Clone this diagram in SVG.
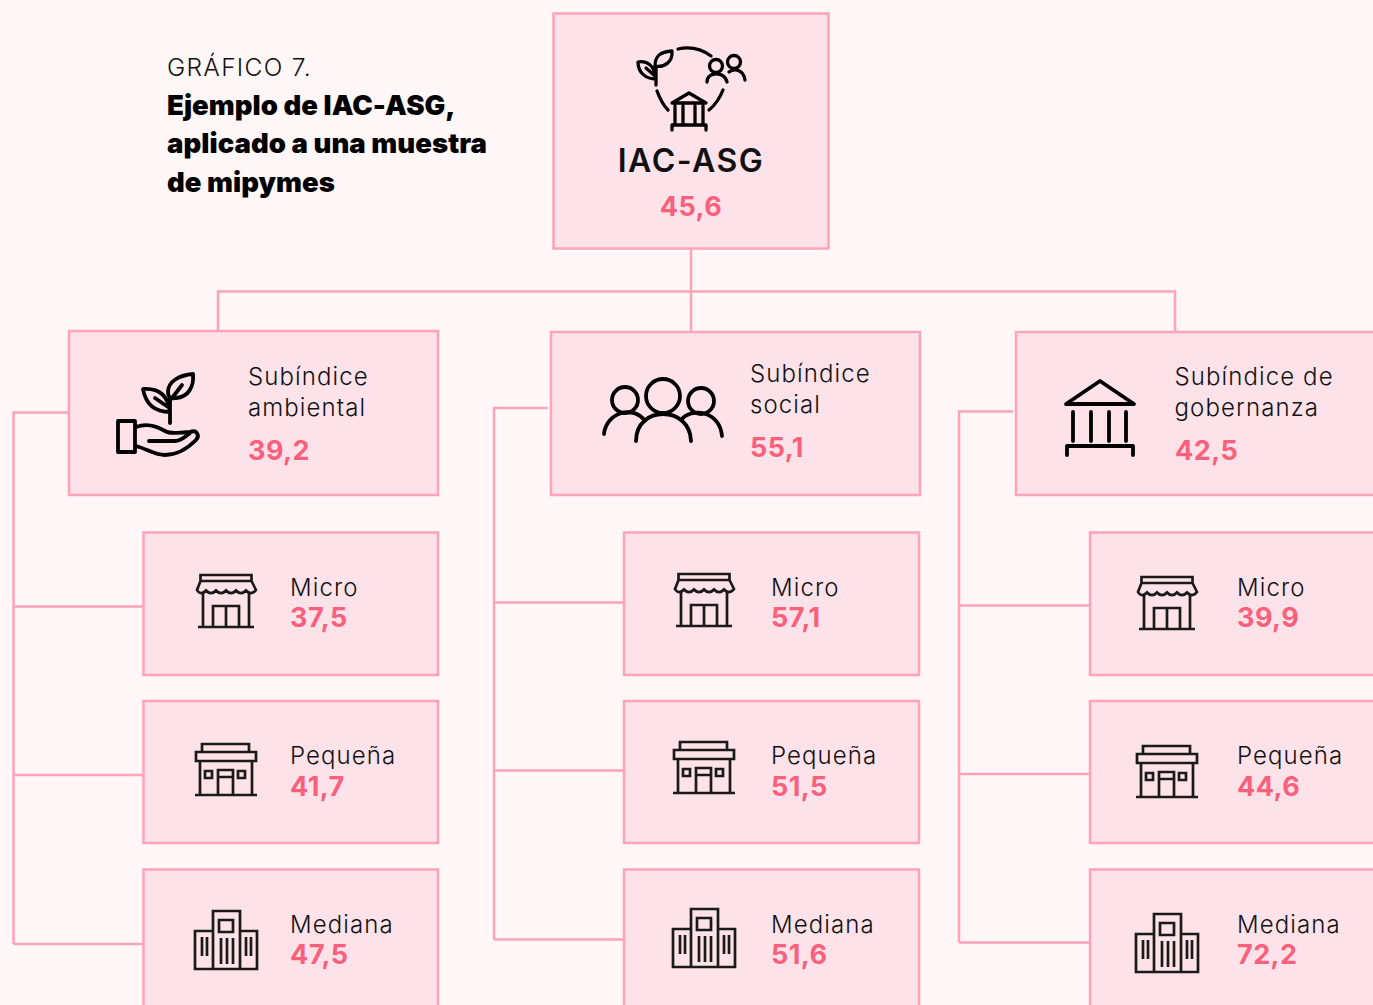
<svg xmlns="http://www.w3.org/2000/svg" xmlns:xlink="http://www.w3.org/1999/xlink" width="1373" height="1005" viewBox="0 0 1373 1005">
<style>
.box{fill:#fee2e9;stroke:#ffa3b9;stroke-width:2.5}
.conn{fill:none;stroke:#ffa3b9;stroke-width:2.5}
.lbl{font-family:"Inter","Liberation Sans",sans-serif;font-size:24px;font-weight:300;fill:#111;letter-spacing:1.1px}
.val{font-family:"Inter","Liberation Sans",sans-serif;font-size:27px;font-weight:700;fill:#f9607c;letter-spacing:.45px}
.ti{font-family:"Inter","Liberation Sans",sans-serif;font-size:27.500px;font-weight:900;fill:#000;letter-spacing:.05px}
.ic{fill:none;stroke:#000;stroke-width:3.800;stroke-linecap:round;stroke-linejoin:round}
.sm{fill:none;stroke:#1a1a1a;stroke-width:2.700;stroke-linejoin:miter}
</style>
<defs>
<g id="micro" class="sm">
<path d="M200.500 581V575H251.500V581M200.500 581H251.500L256 590C253 594 249 594 246 590.500C243 594 239 594 236 590.500C233 594 229 594 226 590.500C223 594 219 594 216 590.500C213 594 209 594 206 590.500C203 594 199 594 197 590L200.500 581Z"/>
<path d="M203 592V627M249 592V627M198 627H254M213 627V606H239V627M226 606V627"/>
</g>
<g id="pequena" class="sm">
<path d="M202 752V744H249V752M196 752H256V761H196ZM200 761V795M252 761V795M195 795H257M205 771H212V778H205ZM238 771H245V778H238ZM218 795V770H233V795M218 777H233"/>
</g>
<g id="mediana" class="sm">
<path d="M213 969V911H240V969ZM213 931H195V969H213M240 931H257V969H240M219 920H233V932H219ZM221 938V964M227 938V964M233 938V964M202 937V956M207 937V956M246 937V956M251 937V956"/>
</g>
</defs>
<rect width="1373" height="1005" fill="#fff6f7"/>
<g id="connectors" class="conn">
<path d="M691 248V332M218 331V291.500H1175V332"/>
<path d="M69 412.500H13.500V944M13.500 606.500H143M13.500 775H143M13.500 944H143"/>
<path d="M548 408H494V939.500M494 602.500H624M494 770.500H624M494 939.500H624"/>
<path d="M1013 411.500H959V942.500M959 605.500H1090M959 774H1090M959 942.500H1090"/>
</g>
<g id="titulo">
<text x="167" y="76" font-family="Inter,'Liberation Sans',sans-serif" font-size="24.500" font-weight="300" fill="#111" letter-spacing="1.300">GRÁFICO 7.</text>
<text class="ti" x="167" y="115">Ejemplo de IAC-ASG,</text>
<text class="ti" x="167" y="153">aplicado a una muestra</text>
<text class="ti" x="167" y="192">de mipymes</text>
</g>
<g id="n-iac">
<rect class="box" x="553.500" y="13.500" width="275" height="235"/>
<g class="ic" style="stroke-width:3.300">
<path d="M678 49A41 41 0 0 1 711 56M657 91C660 99 663 105 668 110M709 110C714 106 719 100 723 90"/>
<path d="M672 51C660 52 655 56 655 66C664 68 673 62 672 51ZM638 62C647 60 655 66 656 79C646 79 638 73 638 62ZM656 66V85M646 68L656 77"/>
<circle cx="716" cy="66" r="6.500"/><circle cx="734" cy="62" r="6.500"/>
<path d="M707 82C707 71 725 71 727 82M729 72C735 67 744 71 745 80"/>
<path d="M672 103L689 93L706 103ZM675 106V125M683 106V125M695 106V125M703 106V125M672 125H706V130M672 125V130"/>
</g>
<text x="691" y="172" text-anchor="middle" font-family="Inter,'Liberation Sans',sans-serif" font-size="32" font-weight="600" fill="#111" letter-spacing="1.500">IAC-ASG</text>
<text class="val" x="691" y="216" text-anchor="middle">45,6</text>
</g>
<g id="n-amb">
<rect class="box" x="69" y="331" width="369" height="164"/>
<g class="ic">
<path d="M118 421H135V452H118ZM136 427C146 423 155 425 165 431C172 435 180 432 190 432C197 429 200 436 196 440C190 446 180 455 165 455C155 455 147 449 136 446M149 441H175C181 441 185 437 190 433"/>
<path d="M170 423V398M193 374C180 375 168 381 168 392C168 398 172 399 176 398C189 397 194 386 193 374ZM143 389C158 388 168 394 170 412C156 412 146 406 143 389ZM155 398L168 407M172 398L182 385"/>
</g>
<text class="lbl" x="248" y="385">Subíndice</text><text class="lbl" x="248" y="416">ambiental</text>
<text class="val" x="248" y="460">39,2</text>
</g>
<g id="n-soc">
<rect class="box" x="551" y="332" width="369" height="163"/>
<g class="ic">
<circle cx="625" cy="400" r="13"/><circle cx="663" cy="396" r="17"/><circle cx="701" cy="401" r="13"/>
<path d="M604 434C606 412 634 405 645 421M636 441C636 405 690 405 691 441M681 420C693 406 720 412 722 436"/>
</g>
<text class="lbl" x="750" y="382">Subíndice</text><text class="lbl" x="750" y="413">social</text>
<text class="val" x="750" y="457">55,1</text>
</g>
<g id="n-gob">
<rect class="box" x="1016" y="332" width="370" height="163"/>
<g class="ic">
<path d="M1066 404L1100 381L1134 404ZM1073 412V441M1091 412V441M1109 412V441M1126 412V441M1067 455V446H1133V455"/>
</g>
<text class="lbl" x="1174.500" y="385">Subíndice de</text><text class="lbl" x="1174.500" y="416">gobernanza</text>
<text class="val" x="1175" y="460">42,5</text>
</g>
<g id="n-a-micro"><rect class="box" x="143.500" y="532.500" width="294.500" height="142.500"/><use href="#micro"/><text class="lbl" x="290" y="596">Micro</text><text class="val" x="290" y="627">37,5</text></g>
<g id="n-a-peq"><rect class="box" x="143.500" y="701" width="294.500" height="142"/><use href="#pequena"/><text class="lbl" x="290" y="764">Pequeña</text><text class="val" x="290" y="796">41,7</text></g>
<g id="n-a-med"><rect class="box" x="143.500" y="869.500" width="294.500" height="142"/><use href="#mediana"/><text class="lbl" x="290" y="933">Mediana</text><text class="val" x="290" y="964">47,5</text></g>
<g id="n-s-micro"><rect class="box" x="624" y="532.500" width="295" height="142.500"/><use href="#micro" x="478" y="-1"/><text class="lbl" x="771" y="596">Micro</text><text class="val" x="771" y="627">57,1</text></g>
<g id="n-s-peq"><rect class="box" x="624" y="701" width="295" height="142"/><use href="#pequena" x="478" y="-2"/><text class="lbl" x="771" y="764">Pequeña</text><text class="val" x="771" y="796">51,5</text></g>
<g id="n-s-med"><rect class="box" x="624" y="869.500" width="295" height="142"/><use href="#mediana" x="478" y="-2"/><text class="lbl" x="771" y="933">Mediana</text><text class="val" x="771" y="964">51,6</text></g>
<g id="n-g-micro"><rect class="box" x="1090" y="532.500" width="296" height="142.500"/><use href="#micro" x="941" y="2"/><text class="lbl" x="1237" y="596">Micro</text><text class="val" x="1237" y="627">39,9</text></g>
<g id="n-g-peq"><rect class="box" x="1090" y="701" width="296" height="142"/><use href="#pequena" x="941" y="2"/><text class="lbl" x="1237" y="764">Pequeña</text><text class="val" x="1237" y="796">44,6</text></g>
<g id="n-g-med"><rect class="box" x="1090" y="869.500" width="296" height="142"/><use href="#mediana" x="941" y="3"/><text class="lbl" x="1237" y="933">Mediana</text><text class="val" x="1237" y="964">72,2</text></g>
</svg>
